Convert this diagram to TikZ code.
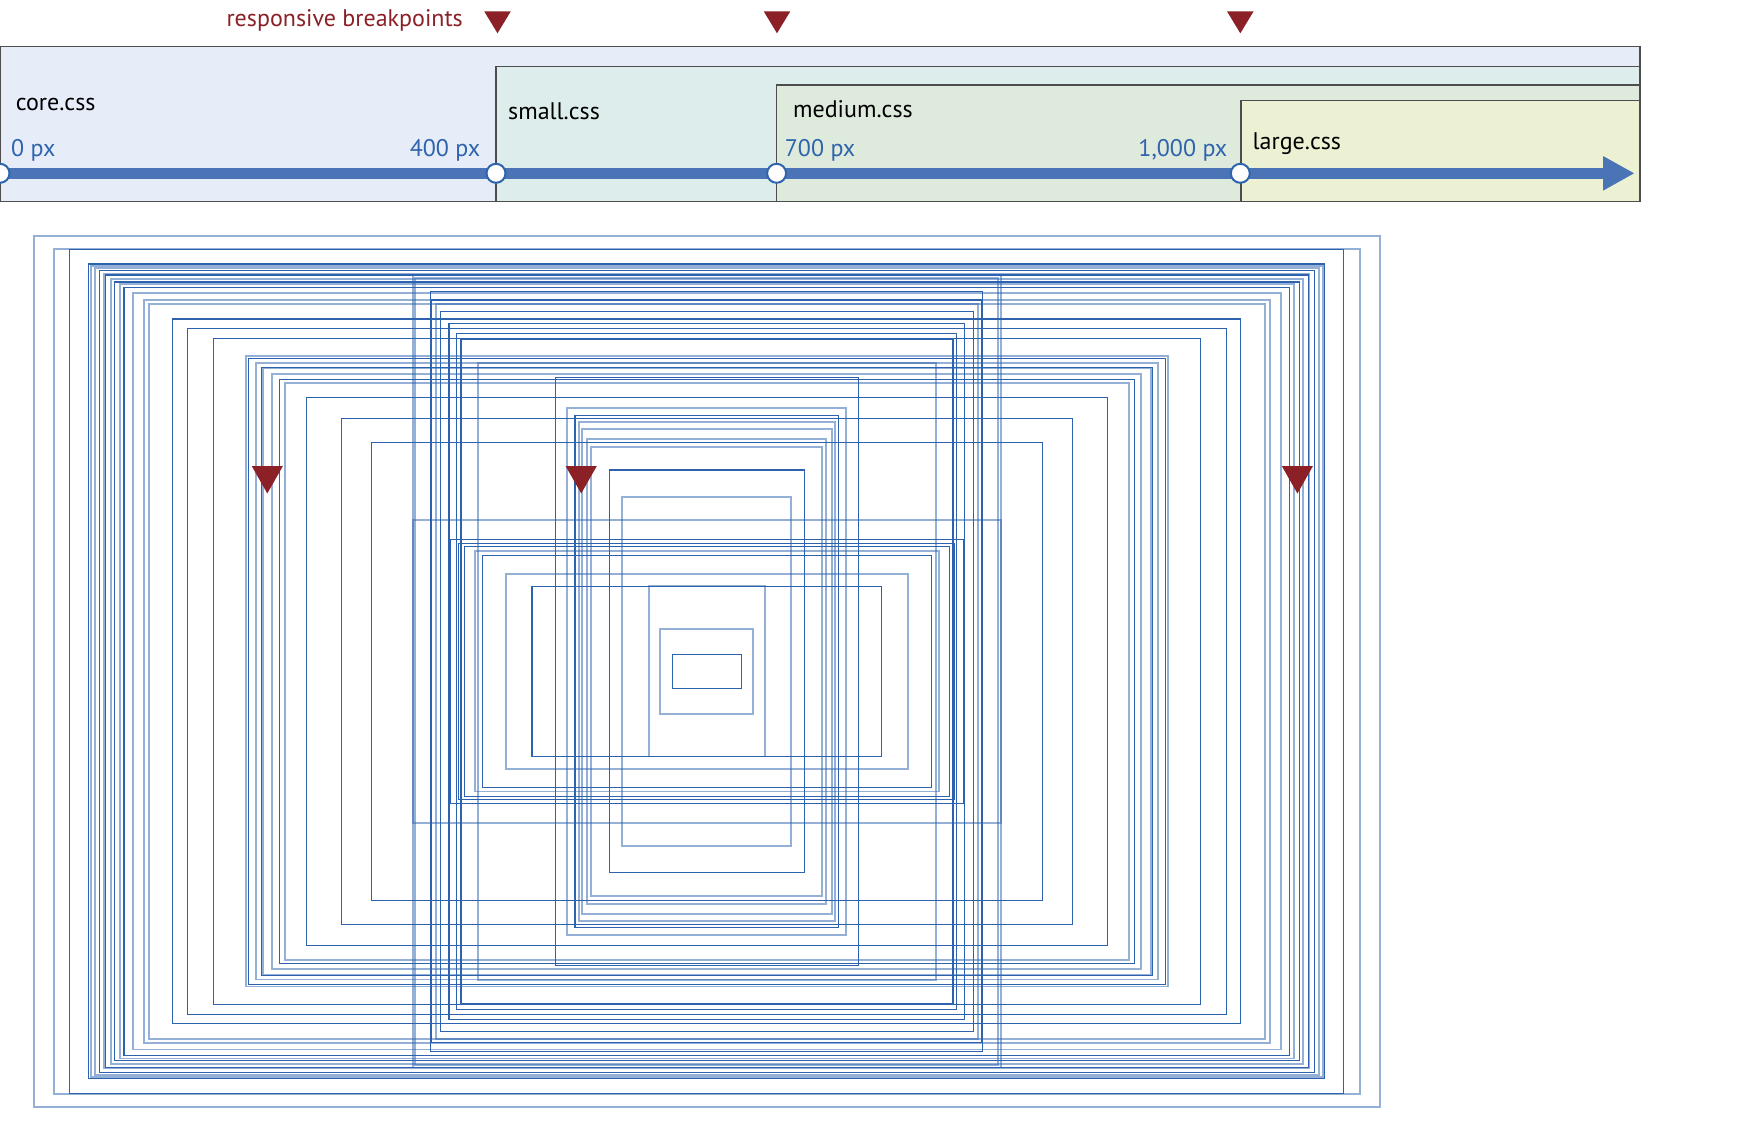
\documentclass[tikz,border=0pt]{standalone}
\usepackage{fontspec}
\setmainfont{PT Sans}
\definecolor{rdark}{HTML}{2C62AE}
\definecolor{bpred}{HTML}{8B2027}
\definecolor{pxblue}{HTML}{2E63AD}
\definecolor{barblue}{HTML}{4A74B6}
\definecolor{corefill}{HTML}{E6EDF8}
\definecolor{smallfill}{HTML}{DCEDEC}
\definecolor{mediumfill}{HTML}{DEEADB}
\definecolor{largefill}{HTML}{EBF1D2}
\definecolor{boxline}{HTML}{4D4D4D}
\begin{document}
\begin{tikzpicture}[x=1pt,y=-1pt,
  dk/.style={draw=rdark, line width=1.1pt},
  dkk/.style={draw=rdark, line width=1.8pt},
  lt/.style={draw=rdark, draw opacity=0.5, line width=1.8pt},
  cssbox/.style={draw=boxline, line width=1.5pt},
  csslabel/.style={anchor=base west, inner sep=0pt, font=\fontsize{24}{28}\selectfont, text=black},
  pxlabel/.style={inner sep=0pt, font=\fontsize{24}{28}\selectfont, text=pxblue},
  bpmark/.style={fill=bpred},
  bpdot/.style={circle, draw=pxblue, line width=2pt, fill=white, minimum size=19pt, inner sep=0pt}
]
\useasboundingbox (0,0) rectangle (1763,1140);
\begin{scope}
\clip (0,0) rectangle (1763,1140);
% CSS ranges
\filldraw[cssbox, fill=corefill] (0,46.7) rectangle (1640,201.7);
\filldraw[cssbox, fill=smallfill] (496,66.7) rectangle (1640,201.7);
\filldraw[cssbox, fill=mediumfill] (776.6,85) rectangle (1640,201.7);
\filldraw[cssbox, fill=largefill] (1240.8,100.5) rectangle (1640,201.7);
% timeline bar + arrow
\fill[barblue] (0,167.6) rectangle (1604,179);
\fill[barblue] (1603,156) -- (1634,173.3) -- (1603,190.7) -- cycle;
% breakpoint dots
\node[bpdot] (c0) at (0,173.3) {};
\node[bpdot] (c400) at (496,173.3) {};
\node[bpdot] (c700) at (776.6,173.3) {};
\node[bpdot] (c1000) at (1240.3,173.3) {};
\end{scope}
% labels
\node[csslabel] (lcore) at (15.6,110) {core.css};
\node[csslabel] (lsmall) at (508,119.3) {small.css};
\node[csslabel] (lmedium) at (792.9,117.3) {medium.css};
\node[csslabel] (llarge) at (1252.5,149.3) {large.css};
\node[pxlabel, anchor=base west] (p0) at (11,156) {0 px};
\node[pxlabel, anchor=base east] (p400) at (480.4,156) {400 px};
\node[pxlabel, anchor=base west] (p700) at (784.7,156) {700 px};
\node[pxlabel, anchor=base east] (p1000) at (1227.5,156) {1,000 px};
\node[inner sep=0pt, anchor=base east, font=\fontsize{24}{28}\selectfont, text=bpred] (bptext) at (463,26.7) {responsive breakpoints};
% top breakpoint markers
\foreach \cx in {497.5,777,1240.3}
  \fill[bpmark] (\cx-13.2,11.5) -- (\cx+13.2,11.5) -- (\cx,33.3) -- cycle;
% concentric rectangles
\foreach \w/\h/\s in {
 673.1/435.4/lt, 653.1/422.4/lt, 637.1/421.7/dk, 618.1/407.4/dk, 616.1/405.7/lt,
 612.1/403.4/lt, 607.5/401.1/dk, 602.5/397.1/lt, 601.5/396.4/dk, 595.8/392.7/lt,
 592.5/389.4/dk, 586.8/387.1/lt, 582.8/384.1/dk, 573.8/378.1/lt, 563.1/371.4/lt,
 557.8/367.7/lt, 534.1/352.4/dk, 519.5/342.7/dk, 493.5/333.1/dk, 460.8/315.1/lt,
 458.5/313.1/dk, 450.8/308.1/lt, 445.5/304.1/dk, 443.8/303.4/lt, 434.5/297.4/lt,
 427.5/292.1/dk, 421.8/288.4/lt, 400.5/273.7/dk, 365.5/252.7/dk, 294.1/396.1/lt,
 291.5/393.4/lt, 276.1/380.1/dk, 275.1/371.4/dk, 271.1/367.4/lt, 266.5/359.7/dk,
 257.8/347.7/dk, 250.1/338.1/dk, 246.1/332.7/dkk, 229.1/308.7/lt, 151.5/293.7/dk,
 139.5/263.7/lt, 131.8/256.1/dk, 127.8/249.4/lt, 124.8/242.7/lt, 119.5/232.7/lt,
 115.5/224.7/lt, 335.5/229.1/dk, 294.1/151.4/lt, 256.8/132.1/dk, 248.1/128.1/dk,
 242.5/124.7/dk, 232.1/120.1/lt, 224.5/115.7/dk, 201.1/97.4/lt, 174.8/85.1/dk,
 58.1/85.1/lt, 97.5/201.4/dk, 84.5/174.7/lt, 46.5/42.4/lt, 34.5/17.1/dk}
  \draw[\s] (706.8-\w,671.4-\h) rectangle (706.8+\w,671.4+\h);
% lower breakpoint markers
\foreach \cx in {267.3,581.2,1297.4}
  \fill[bpmark] (\cx-15.6,466) -- (\cx+15.6,466) -- (\cx,493.5) -- cycle;
\end{tikzpicture}
\end{document}
